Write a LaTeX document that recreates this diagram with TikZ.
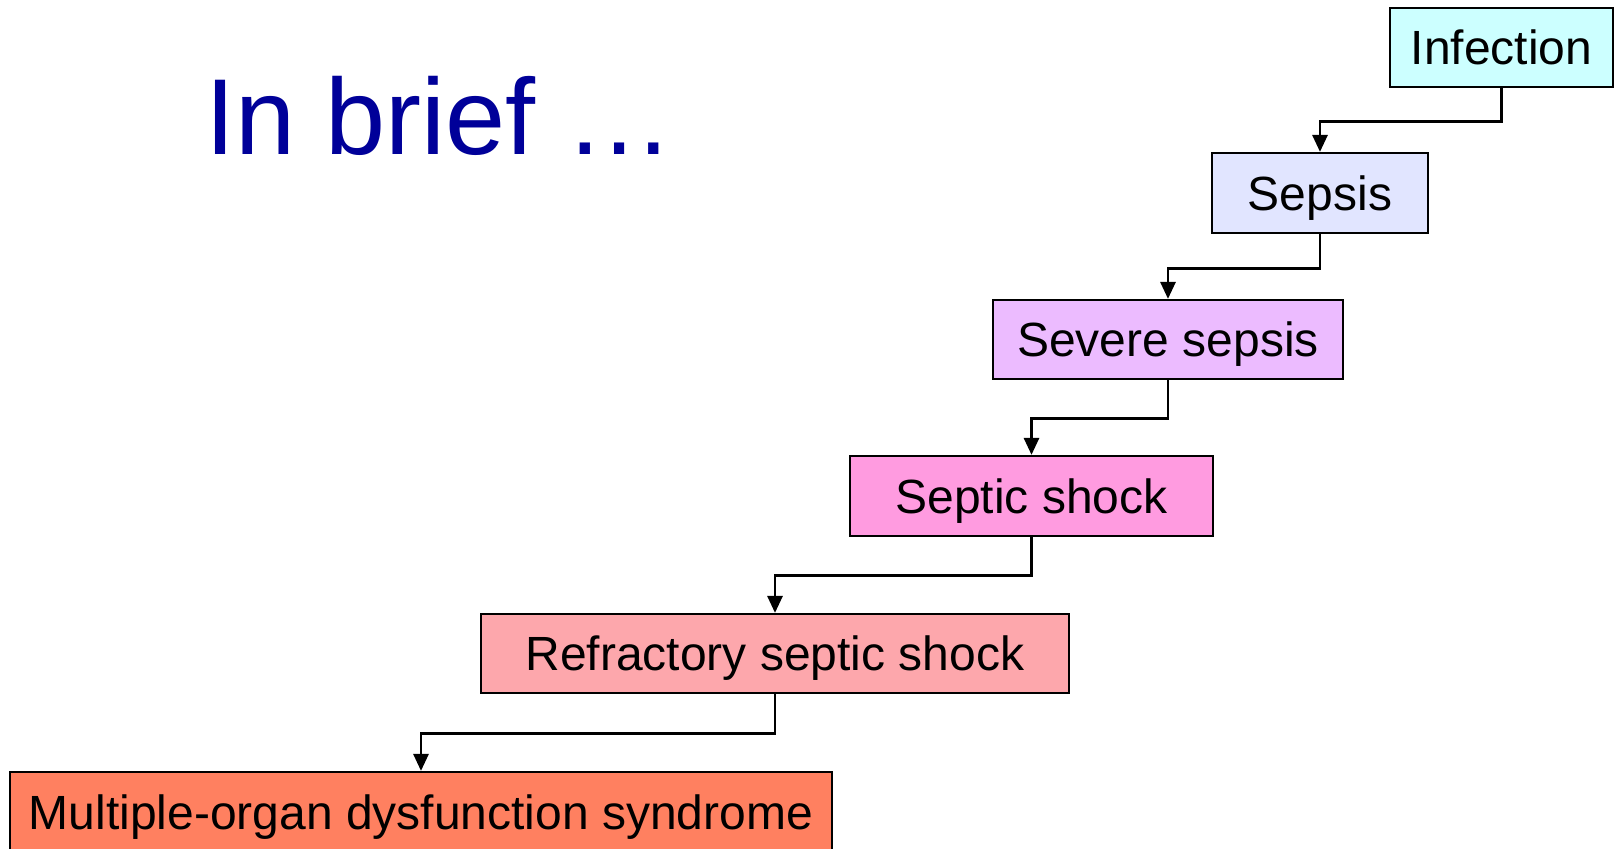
\documentclass[tikz,border=0pt]{standalone}
\usepackage{fontspec}
\setmainfont{Liberation Sans}
\usetikzlibrary{arrows.meta}
\definecolor{cInf}{HTML}{CCFFFF}
\definecolor{cSep}{HTML}{E1E5FF}
\definecolor{cSev}{HTML}{ECBBFF}
\definecolor{cShk}{HTML}{FF9BE0}
\definecolor{cRef}{HTML}{FDA7AC}
\definecolor{cMod}{HTML}{FF8060}
\definecolor{cTitle}{HTML}{000099}
\tikzset{
  stage/.style={draw=black, line width=1.1pt, inner sep=0pt, minimum height=40pt,
    font=\fontsize{24}{28}\selectfont, text=black, text height=20pt, text depth=3pt},
  arr/.style={draw=black, line width=1.4pt, -{Triangle[length=8.5pt,width=7.5pt]}},
}
\begin{document}
\begin{tikzpicture}[x=0.5pt,y=-0.5pt]
\useasboundingbox (0,0) rectangle (1614,848);
\fill[white] (0,0) rectangle (1614,848);
\node[anchor=base west, inner sep=0pt, text=cTitle, font=\fontsize{54}{60}\selectfont] (title) at (205,154) {In brief \ldots};
\node[stage, fill=cInf, minimum width=111.5pt, minimum height=39.5pt] (inf) at (1501.5,47.5) {Infection};
\node[stage, fill=cSep, minimum width=108pt] (sep) at (1320,193) {Sepsis};
\node[stage, fill=cSev, minimum width=175pt, minimum height=39.5pt] (sev) at (1168,339.5) {Severe sepsis};
\node[stage, fill=cShk, minimum width=181.5pt] (shk) at (1031.5,496) {Septic shock};
\node[stage, fill=cRef, minimum width=294pt, minimum height=39.5pt] (ref) at (775,653.5) {Refractory septic shock};
\node[stage, fill=cMod, minimum width=411pt] (mod) at (421,812) {Multiple-organ dysfunction syndrome};
\draw[arr] (inf.south) -- ++(0,33) -| (sep.north);
\draw[arr] (sep.south) -- ++(0,34) -| (sev.north);
\draw[arr] (sev.south) -- ++(0,38) -| (shk.north);
\draw[arr] (shk.south) -- ++(0,38) -| (ref.north);
\draw[arr] (ref.south) -- ++(0,39) -| (mod.north);
\end{tikzpicture}
\end{document}
